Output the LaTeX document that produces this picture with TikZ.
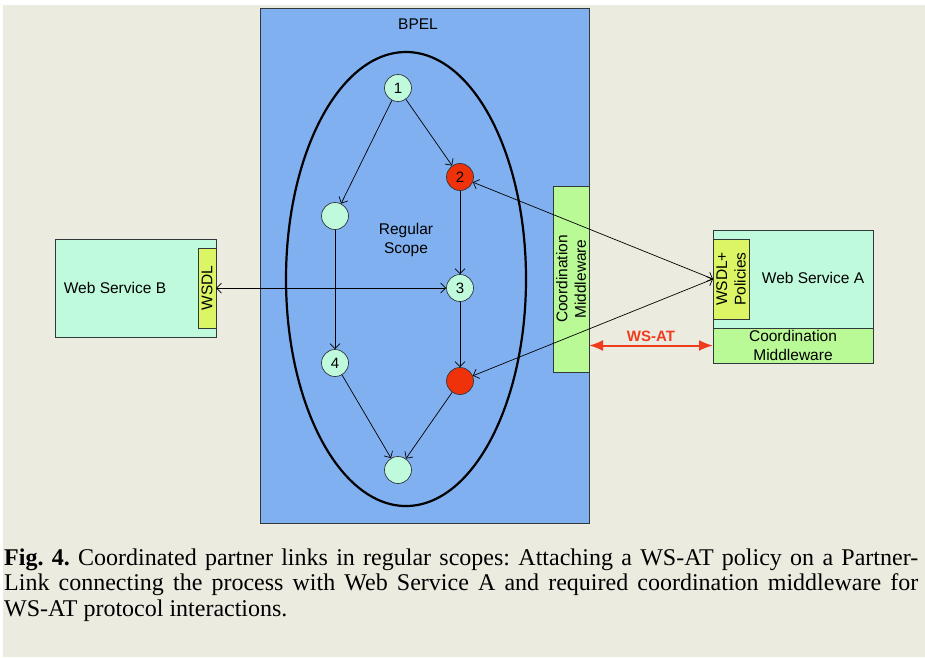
\documentclass[tikz,border=0pt]{standalone}
\usepackage{fontspec}
\setmainfont{Liberation Sans}
\newfontfamily\capfont{Liberation Serif}
\usetikzlibrary{arrows.meta}
\definecolor{bgc}{RGB}{236,235,224}
\definecolor{bpelc}{RGB}{128,176,240}
\definecolor{mintc}{RGB}{192,250,220}
\definecolor{wsdlc}{RGB}{220,245,100}
\definecolor{cmc}{RGB}{186,250,150}
\definecolor{redc}{RGB}{240,50,10}
\definecolor{wsatc}{RGB}{240,60,30}
\definecolor{bordc}{RGB}{50,55,60}
\tikzset{
  box/.style={draw=bordc, line width=0.8pt, inner sep=0pt, outer sep=0pt},
  circ/.style={circle, draw=bordc, line width=0.7pt, fill=mintc, minimum size=27pt, inner sep=0pt, font=\fontsize{15}{15}\selectfont},
  redcirc/.style={circ, fill=redc},
  edge/.style={line width=0.7pt, -{Straight Barb[length=5pt,width=10pt]}},
  bedge/.style={line width=0.7pt, {Straight Barb[length=5pt,width=10pt]}-{Straight Barb[length=5pt,width=10pt]}},
  lbl/.style={font=\fontsize{15.5}{18.5}\selectfont, align=center, inner sep=0pt},
  wsat/.style={line width=2pt, draw=wsatc, {Latex[length=14pt,width=11pt]}-{Latex[length=14pt,width=11pt]}},
  capline/.style={anchor=base west, inner sep=0pt, font=\capfont\fontsize{24}{25}\selectfont\frenchspacing}
}
\begin{document}
\begin{tikzpicture}[x=1pt,y=-1pt]
\useasboundingbox (0,0) rectangle (925,657);
\fill[white] (0,0) rectangle (925,657);
\fill[bgc] (3,5) rectangle (925,657);

% BPEL container
\node[box, fill=bpelc, minimum width=329pt, minimum height=515pt] (bpel) at (424.5,265.5) {};
\node[lbl] (bpelt) at (418,24) {BPEL};
\draw[line width=2.2pt] (406,279) ellipse [x radius=120pt, y radius=227pt];
\node[lbl] (scope) at (406,240) {Regular\\Scope};

% activities
\node[circ] (n1) at (398,88) {1};
\node[redcirc] (n2) at (460,177) {2};
\node[circ] (nl) at (335,216) {};
\node[circ] (n3) at (460,288) {3};
\node[circ] (n4) at (335,363) {4};
\node[redcirc] (nr) at (460,381) {};
\node[circ] (nb) at (398,470) {};

\draw[edge] (n1) -- (n2);
\draw[edge] (n1) -- (nl);
\draw[edge] (n2) -- (n3);
\draw[edge] (nl) -- (n4);
\draw[edge] (n3) -- (nr);
\draw[edge] (n4) -- (nb);
\draw[edge] (nr) -- (nb);

% coordination middleware in BPEL
\node[box, fill=cmc, minimum width=36pt, minimum height=186pt] (cm1) at (571,279) {};
\node[lbl, rotate=90] (cm1t) at (571,279) {Coordination\\Middleware};

% Web Service B
\node[box, fill=mintc, minimum width=161pt, minimum height=98pt] (wsb) at (135.5,288) {};
\node[lbl] (wsbt) at (115,288) {Web Service B};
\node[box, fill=wsdlc, minimum width=18pt, minimum height=80pt] (wsdl) at (207,288) {};
\node[lbl, rotate=90] (wsdlt) at (207,288) {WSDL};

% Web Service A
\node[box, fill=mintc, minimum width=160pt, minimum height=98pt] (wsa) at (793,279) {};
\node[lbl] (wsat) at (813,278) {Web Service A};
\node[box, fill=cmc, minimum width=160pt, minimum height=35pt] (cm2) at (793,345.5) {};
\node[lbl] (cm2t) at (793,345.5) {Coordination\\Middleware};
\node[box, fill=wsdlc, minimum width=36pt, minimum height=80pt] (wsdlp) at (731,279) {};
\node[lbl, rotate=90] (wsdlpt) at (731,279) {WSDL+\\Policies};

% partner links
\draw[bedge] (wsdl.east) -- (n3);
\draw[bedge] (n2) -- (wsdlp.west);
\draw[bedge] (nr) -- (wsdlp.west);

% WS-AT
\draw[wsat] (cm1.east |- cm2.west) -- (cm2.west);
\node[lbl, text=wsatc, font=\bfseries\fontsize{15}{18}\selectfont] (wsatl) at (651,336) {WS-AT};

% caption
\node[capline] (c1) at (4,565) {\makebox[914pt][s]{\textbf{Fig. 4.} Coordinated partner links in regular scopes: Attaching a WS-AT policy on a Partner-}};
\node[capline] (c2) at (4,590) {\makebox[914pt][s]{Link connecting the process with Web Service A and required coordination middleware for}};
\node[capline] (c3) at (4,616) {WS-AT protocol interactions.};
\end{tikzpicture}
\end{document}
